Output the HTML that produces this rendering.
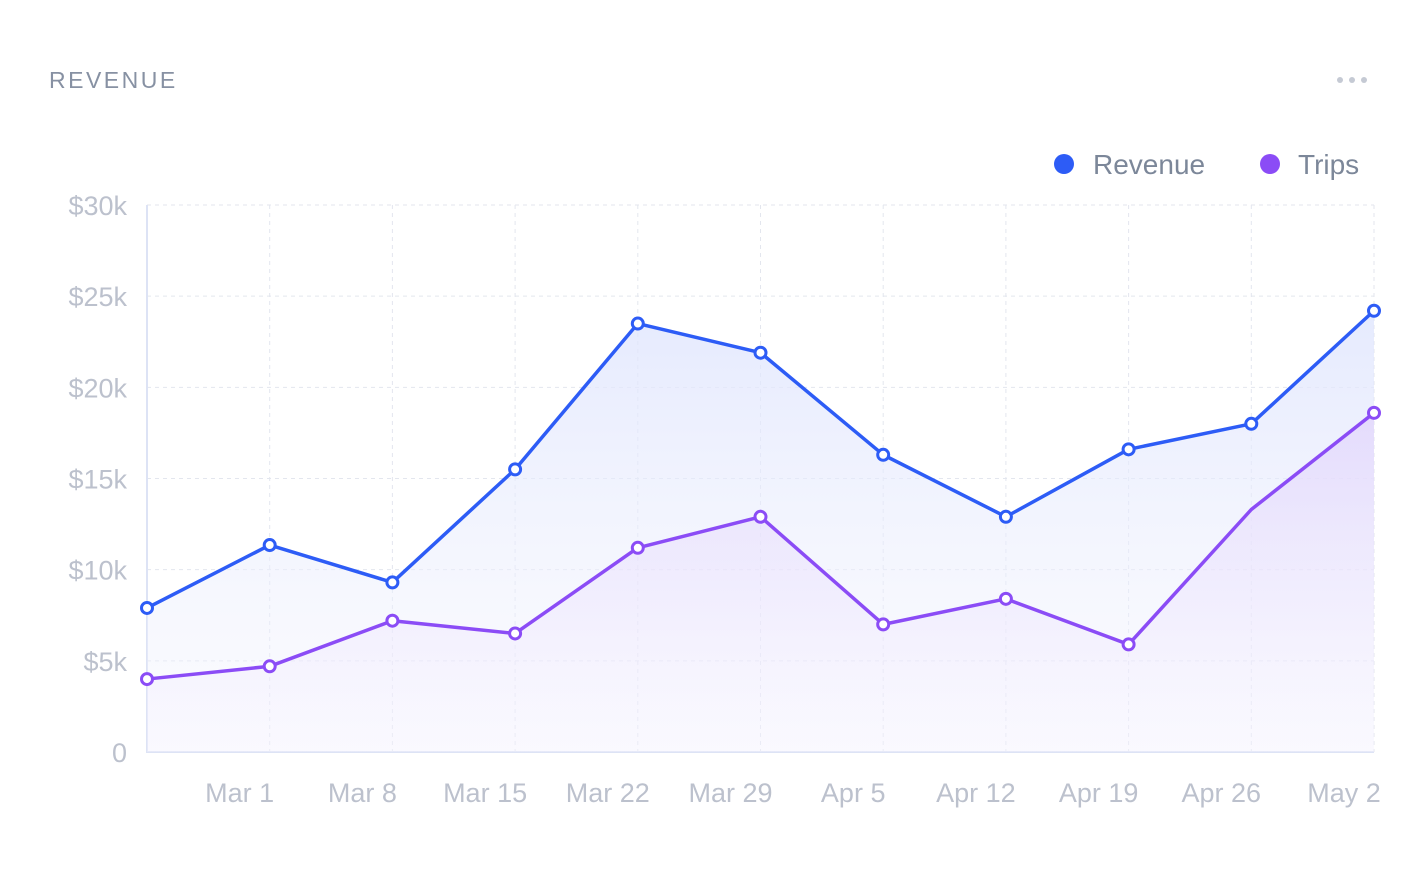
<!DOCTYPE html>
<html><head><meta charset="utf-8"><style>
html,body{margin:0;padding:0;background:#fff;width:1416px;height:890px;overflow:hidden}
svg{display:block;font-family:"Liberation Sans",sans-serif}
</style></head><body>
<svg id="chart" width="1416" height="890" viewBox="0 0 1416 890">
<defs>
<linearGradient id="gb" x1="0" y1="0" x2="0" y2="1"><stop offset="0" stop-color="#dfe5fd" stop-opacity="0.8"/><stop offset="1" stop-color="#f3f4fe" stop-opacity="0.3"/></linearGradient>
<linearGradient id="gp" x1="0" y1="0" x2="0" y2="1"><stop offset="0" stop-color="#e2d6fc" stop-opacity="0.8"/><stop offset="1" stop-color="#f4effe" stop-opacity="0.2"/></linearGradient>
</defs>
<text x="49" y="88" font-size="23" fill="#8791a3" letter-spacing="2.5">REVENUE</text>
<g fill="#c5cad4"><circle cx="1340" cy="80" r="3"/><circle cx="1352" cy="80" r="3"/><circle cx="1364" cy="80" r="3"/></g>
<g><circle cx="1064" cy="164" r="10" fill="#2d5cf6"/><text x="1093" y="174" font-size="28" fill="#7c8799">Revenue</text></g>
<g><circle cx="1270" cy="164" r="10" fill="#8b4cf6"/><text x="1298" y="174" font-size="28" fill="#7c8799">Trips</text></g>
<g id="grid"></g><g id="areas"></g><g id="lines"></g><g id="labels"></g>
</svg>
<script>
const categories=["Feb 23","Mar 1","Mar 8","Mar 15","Mar 22","Mar 29","Apr 5","Apr 12","Apr 19","Apr 26","May 2"];
const revenue=[7.9,11.35,9.3,15.5,23.5,21.9,16.3,12.9,16.6,18.0,24.2];
const trips=[4.0,4.7,7.2,6.5,11.2,12.9,7.0,8.4,5.9,13.3,18.6];
const yTicks=[0,5,10,15,20,25,30];
const yTickLabels=["0","$5k","$10k","$15k","$20k","$25k","$30k"];
const NS="http://www.w3.org/2000/svg";
const x0=147,x1=1374,yBase=752,yTop=205;
const x=i=>x0+(x1-x0)*i/(categories.length-1);
const y=v=>yBase-(yBase-yTop)*v/30;
function mk(t,a,p){const e=document.createElementNS(NS,t);for(const k in a)e.setAttribute(k,a[k]);document.getElementById(p).appendChild(e);return e;}
yTicks.forEach((t,i)=>{
 if(t>0){const l=mk("line",{x1:x0,x2:x1,y1:y(t),y2:y(t),stroke:"#e3e6ee","stroke-dasharray":"4 4"},"grid");
 
 }
 const tx=mk("text",{x:127,y:y(t)+10,"text-anchor":"end","font-size":"27",fill:"#bcc1cd"},"labels");tx.textContent=yTickLabels[i];
 
 
});
categories.forEach((c,i)=>{
 if(i>0){const l=mk("line",{x1:x(i),x2:x(i),y1:yTop,y2:yBase,stroke:"#e3e6ee","stroke-dasharray":"4 4"},"grid");
 
 
 const tx=mk("text",{x:x(i)-30,y:802,"text-anchor":"middle","font-size":"27",fill:"#bcc1cd"},"labels");tx.textContent=c;
 
 }
});
const ax=mk("path",{d:`M${x0} ${yTop}V${yBase}H${x1}`,stroke:"#dde3f5","stroke-width":2,fill:"none"},"grid");


function series(vals,color,grad,name,skip){
 const pts=vals.map((v,i)=>x(i)+","+y(v));
 const a=mk("path",{d:`M${x(0)},${yBase}L${pts.join("L")}L${x(vals.length-1)},${yBase}Z`,fill:`url(#${grad})`},"areas");
 
 
 const l=mk("path",{d:"M"+pts.join("L"),fill:"none",stroke:color,"stroke-width":3.5,"stroke-linejoin":"round"},"lines");
 
 
 vals.forEach((v,i)=>{if(skip.includes(i))return;
  const c=mk("circle",{cx:x(i),cy:y(v),r:5.5,fill:"#fff",stroke:color,"stroke-width":3},"lines");
  
  });
}
series(revenue,"#2d5cf6","gb","revenue",[]);
series(trips,"#8b4cf6","gp","trips",[9]);
</script>
</body></html>
